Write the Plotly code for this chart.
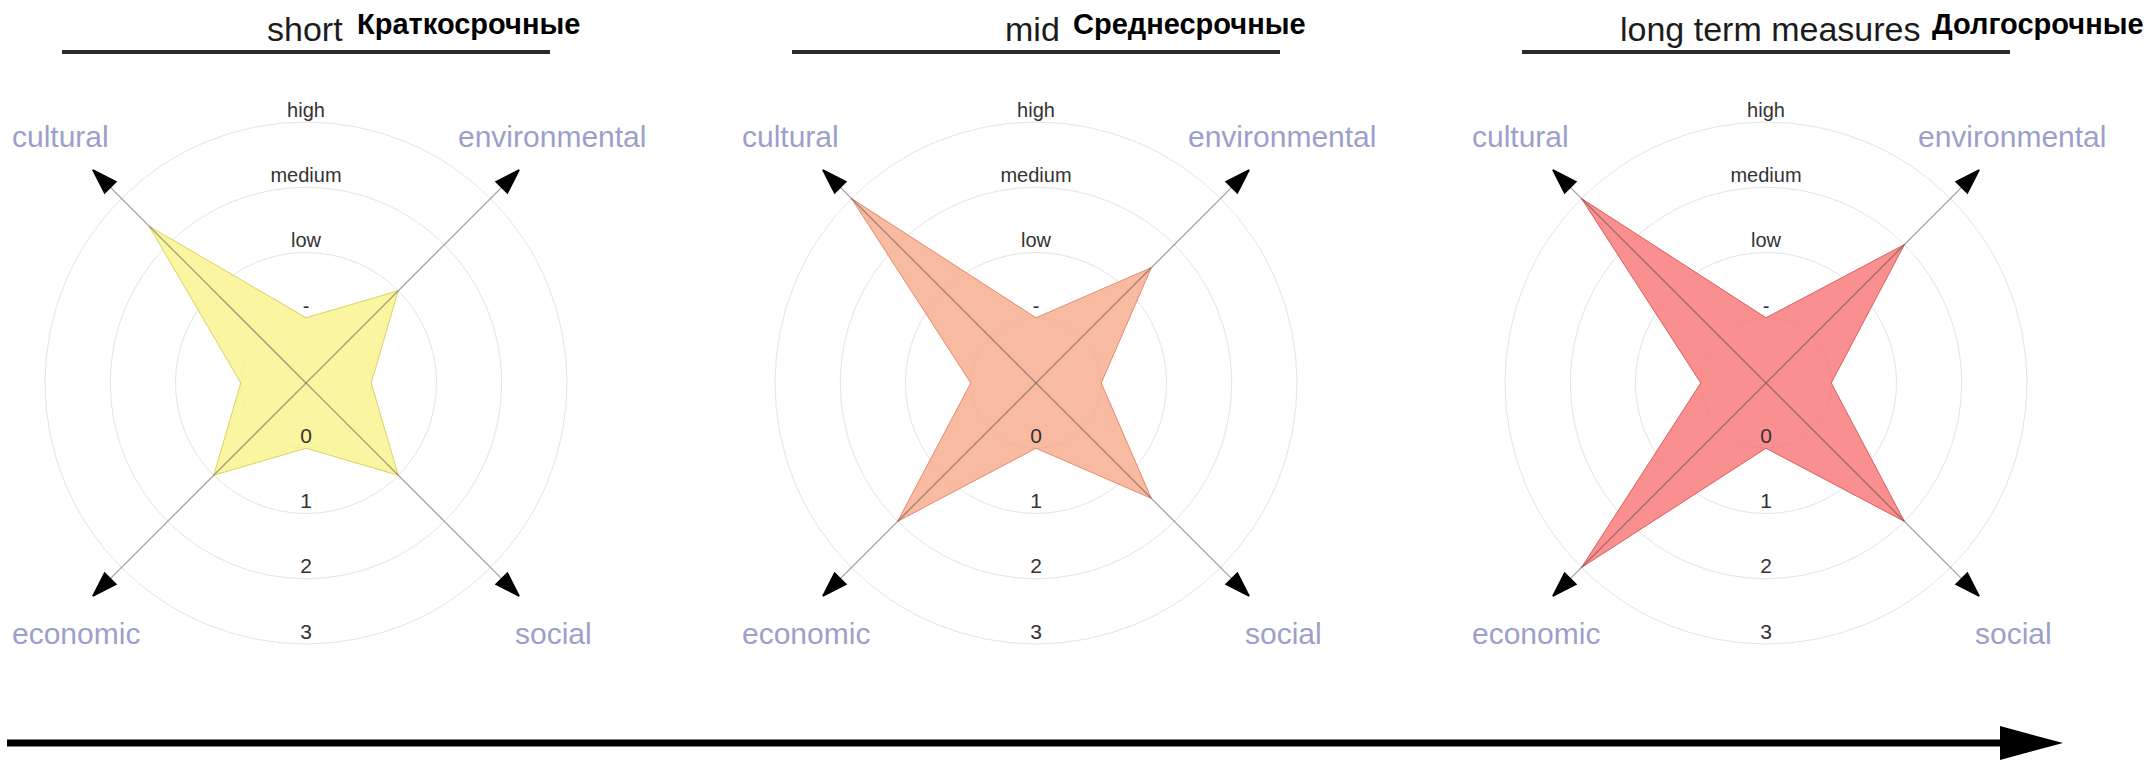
import plotly.graph_objects as go

# ---- data -------------------------------------------------------------
# diagonal spokes (degrees, counter-clockwise from east)
spoke_names = ["environmental", "cultural", "economic", "social"]
spoke_angles = [45, 135, 225, 315]

period_titles = ["short", "mid", "long term measures"]
period_titles_ru = ["Краткосрочные", "Среднесрочные", "Долгосрочные"]

# values per spoke, ordered as spoke_names
short_values = [1.0, 2.4, 1.0, 1.0]
mid_values = [1.5, 3.0, 2.0, 1.5]
long_values = [2.0, 3.0, 3.0, 2.0]
period_values = [short_values, mid_values, long_values]

# value on the unnamed cardinal directions between the spokes
between_value = 0.0

level_values = [0, 1, 2, 3]
level_upper = ["-", "low", "medium", "high"]
level_lower = ["0", "1", "2", "3"]

# ---- styling ----------------------------------------------------------
W, H = 2156, 760
centers_x = [306, 1036, 1766]
center_y = 383
ring_px = 65.25          # pixels per radial unit
r_min, r_max = -1, 3.66  # radial range; -1 sits at the centre
tip_r = 3.62             # arrow tips on the spokes

fill_colors = ["rgba(249,243,140,0.82)", "rgba(246,168,135,0.78)", "rgba(247,112,112,0.78)"]
edge_colors = ["rgba(215,205,90,0.9)", "rgba(225,130,100,0.9)", "rgba(215,85,85,0.9)"]
label_color = "#9c9fcb"
font_main = "Liberation Sans, Arial, Helvetica, sans-serif"


def px(x):
    return x / W


def py(y):
    return 1 - y / H


fig = go.Figure()
layout_polars = {}
annotations = []
shapes = []

R = (r_max - r_min) * ring_px

for i, (cx, values) in enumerate(zip(centers_x, period_values)):
    pid = "polar" if i == 0 else f"polar{i + 1}"
    sub = pid

    layout_polars[pid] = dict(
        domain=dict(x=[px(cx - R), px(cx + R)], y=[py(center_y + R), py(center_y - R)]),
        bgcolor="white",
        radialaxis=dict(range=[r_min, r_max], tickvals=level_values, showticklabels=False,
                        ticks="", showline=False, gridcolor="#e4e4e4", gridwidth=1.3),
        angularaxis=dict(showgrid=False, showline=False, showticklabels=False, ticks="",
                         direction="counterclockwise", rotation=0),
    )

    # star-shaped polygon: spoke values interleaved with the cardinal values
    theta, r = [], []
    for ang, v in zip(spoke_angles, values):
        theta += [ang, ang + 45]
        r += [v, between_value]
    theta.append(theta[0])
    r.append(r[0])
    fig.add_trace(go.Scatterpolar(
        r=r, theta=theta, mode="lines", fill="toself",
        fillcolor=fill_colors[i], line=dict(color=edge_colors[i], width=1),
        subplot=sub, showlegend=False, hoverinfo="skip"))

    # spokes
    for ang in spoke_angles:
        fig.add_trace(go.Scatterpolar(
            r=[r_min, tip_r - 0.25], theta=[ang, ang], mode="lines",
            line=dict(color="rgba(70,70,70,0.5)", width=1.3),
            subplot=sub, showlegend=False, hoverinfo="skip"))
        # arrow head at the outer end of the spoke
        fig.add_trace(go.Scatterpolar(
            r=[r_min, tip_r], theta=[ang, ang], mode="markers",
            marker=dict(symbol="arrow", size=[0, 26], color="black", opacity=1,
                        angleref="previous", line=dict(color="black", width=1.5)),
            subplot=sub, showlegend=False, hoverinfo="skip", cliponaxis=False))

    # level labels above and below the centre
    fig.add_trace(go.Scatterpolar(
        r=level_values, theta=[90] * 4, mode="text", text=level_upper,
        textposition="top center",
        textfont=dict(family=font_main, size=20, color="#333333"),
        subplot=sub, showlegend=False, hoverinfo="skip"))
    fig.add_trace(go.Scatterpolar(
        r=level_values, theta=[270] * 4, mode="text", text=level_lower,
        textposition="top center",
        textfont=dict(family=font_main, size=21, color="#333333"),
        subplot=sub, showlegend=False, hoverinfo="skip"))

    # spoke names
    lab_font = dict(family=font_main, size=30, color=label_color)
    annotations += [
        dict(text="cultural", x=px(cx - 296), y=py(136), xanchor="left", yanchor="middle"),
        dict(text="environmental", x=px(cx + 246), y=py(136), xanchor="center", yanchor="middle"),
        dict(text="economic", x=px(cx - 296), y=py(633), xanchor="left", yanchor="middle"),
        dict(text="social", x=px(cx + 247), y=py(633), xanchor="center", yanchor="middle"),
    ]
    for a in annotations[-4:]:
        a.update(xref="paper", yref="paper", showarrow=False, font=lab_font)

    # underline of the period title
    shapes.append(dict(type="line", xref="paper", yref="paper",
                       x0=px(cx - 244), x1=px(cx + 244), y0=py(52), y1=py(52),
                       line=dict(color="#2a2a2a", width=4)))

# period titles
title_centers = [305, 1032, 1770]
ru_left = [355, 1071, 1930]
for t_en, t_ru, tx, rx in zip(period_titles, period_titles_ru, title_centers, ru_left):
    annotations.append(dict(text=t_en, x=px(tx), y=py(29), xref="paper", yref="paper",
                            xanchor="center", yanchor="middle", showarrow=False,
                            font=dict(family=font_main, size=34, color="#1c1c1c")))
    annotations.append(dict(text=f"<b>{t_ru}</b>", x=px(rx), y=py(24), xref="paper", yref="paper",
                            xanchor="left", yanchor="middle", showarrow=False,
                            font=dict(family=font_main, size=29, color="black")))

# long time arrow along the bottom
shapes.append(dict(type="line", xref="paper", yref="paper",
                   x0=px(7), x1=px(2004), y0=py(743), y1=py(743),
                   line=dict(color="black", width=7)))
shapes.append(dict(type="path", xref="paper", yref="paper",
                   path=f"M {px(2000)},{py(726)} L {px(2063)},{py(743)} L {px(2000)},{py(760)} Z",
                   fillcolor="black", line=dict(color="black", width=0)))

fig.update_layout(
    width=W, height=H, autosize=False,
    margin=dict(l=0, r=0, t=0, b=0),
    paper_bgcolor="white", plot_bgcolor="white",
    showlegend=False,
    annotations=annotations, shapes=shapes,
    **layout_polars,
)

fig.write_html("out.html", config={"displayModeBar": False})
